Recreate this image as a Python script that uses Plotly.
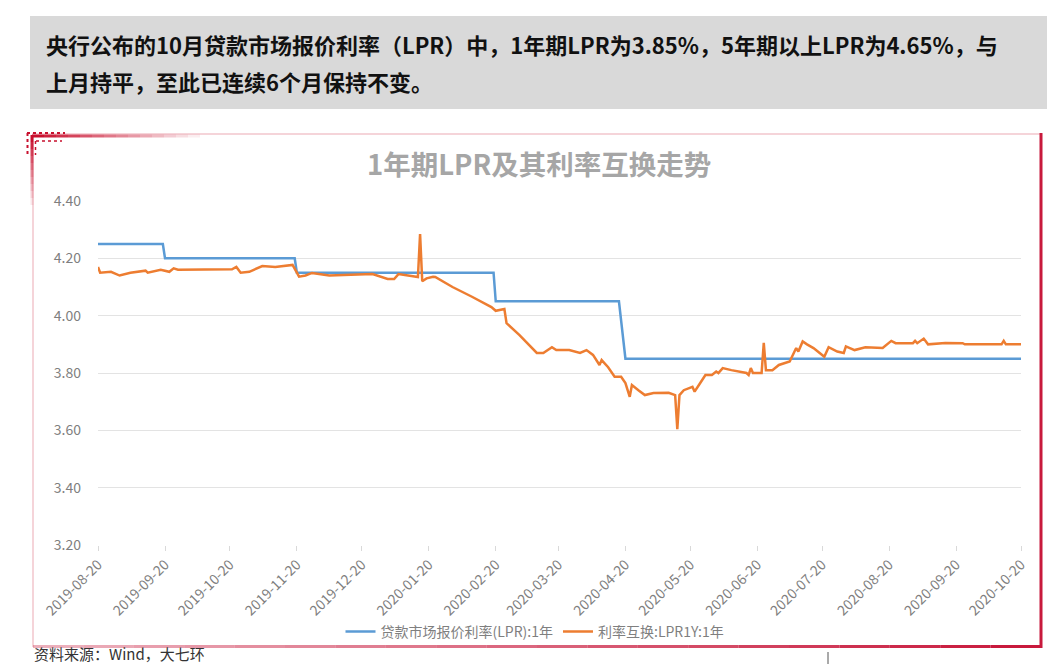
import plotly.graph_objects as go

W, H = 1062, 664

# ---------------- data ----------------
lpr_dates = ["2019-08-20", "2019-09-19", "2019-09-20", "2019-11-19", "2019-11-20",
             "2020-02-19", "2020-02-20", "2020-04-17", "2020-04-20", "2020-10-20"]
lpr_values = [4.25, 4.25, 4.20, 4.20, 4.15, 4.15, 4.05, 4.05, 3.85, 3.85]

swap_dates = [
    "2019-08-20", "2019-08-21", "2019-08-26", "2019-08-30", "2019-09-04", "2019-09-11",
    "2019-09-12", "2019-09-18", "2019-09-22", "2019-09-24", "2019-09-26", "2019-10-08",
    "2019-10-21", "2019-10-23", "2019-10-25", "2019-10-29", "2019-11-04", "2019-11-10",
    "2019-11-18", "2019-11-20", "2019-11-21", "2019-11-24", "2019-11-27", "2019-12-05",
    "2019-12-15", "2019-12-25", "2020-01-01", "2020-01-04", "2020-01-06", "2020-01-14",
    "2020-01-15", "2020-01-16", "2020-01-17", "2020-01-19", "2020-01-22", "2020-01-23",
    "2020-01-31", "2020-02-09", "2020-02-17", "2020-02-18", "2020-02-20", "2020-02-24",
    "2020-02-25", "2020-03-02", "2020-03-10", "2020-03-13", "2020-03-17", "2020-03-19",
    "2020-03-25", "2020-03-30", "2020-04-02", "2020-04-05", "2020-04-08", "2020-04-09",
    "2020-04-12", "2020-04-15", "2020-04-18", "2020-04-20", "2020-04-22", "2020-04-23",
    "2020-04-26", "2020-04-29", "2020-05-03", "2020-05-10", "2020-05-13", "2020-05-14",
    "2020-05-15", "2020-05-17", "2020-05-21", "2020-05-22", "2020-05-24", "2020-05-27",
    "2020-05-30", "2020-06-01", "2020-06-02", "2020-06-04", "2020-06-08", "2020-06-15",
    "2020-06-16", "2020-06-17", "2020-06-18", "2020-06-22", "2020-06-23", "2020-06-24",
    "2020-06-27", "2020-06-30", "2020-07-05", "2020-07-06", "2020-07-08", "2020-07-09",
    "2020-07-11", "2020-07-13", "2020-07-16", "2020-07-18", "2020-07-21", "2020-07-23",
    "2020-07-27", "2020-07-30", "2020-07-31", "2020-08-04", "2020-08-09", "2020-08-17",
    "2020-08-21", "2020-08-23", "2020-08-31", "2020-09-01", "2020-09-02", "2020-09-05",
    "2020-09-07", "2020-09-15", "2020-09-23", "2020-09-24", "2020-10-11", "2020-10-12",
    "2020-10-13", "2020-10-20"]
swap_values = [
    4.17, 4.15, 4.153, 4.14, 4.15, 4.157,
    4.15, 4.16, 4.153, 4.165, 4.16, 4.162,
    4.162, 4.17, 4.15, 4.153, 4.173, 4.17,
    4.177, 4.15, 4.136, 4.14, 4.149, 4.14,
    4.143, 4.145, 4.128, 4.128, 4.145, 4.135,
    4.135, 4.285, 4.12, 4.13, 4.136, 4.135,
    4.10, 4.066, 4.033, 4.03, 4.017, 4.023,
    3.974, 3.932, 3.87, 3.87, 3.89, 3.88,
    3.88, 3.87, 3.88, 3.863, 3.828, 3.845,
    3.82, 3.787, 3.787, 3.765, 3.717, 3.758,
    3.74, 3.723, 3.73, 3.731, 3.723, 3.604,
    3.723, 3.74, 3.752, 3.735, 3.758, 3.793,
    3.793, 3.805, 3.80, 3.817, 3.81, 3.80,
    3.793, 3.817, 3.80, 3.80, 3.905, 3.81,
    3.81, 3.828, 3.84, 3.857, 3.887, 3.875,
    3.91, 3.90, 3.887, 3.875, 3.857, 3.89,
    3.875, 3.87, 3.893, 3.88, 3.89, 3.887,
    3.912, 3.904, 3.904, 3.912, 3.904, 3.92,
    3.90, 3.905, 3.904, 3.90, 3.90, 3.912,
    3.90, 3.90]

tick_dates = ["2019-08-20", "2019-09-20", "2019-10-20", "2019-11-20", "2019-12-20",
              "2020-01-20", "2020-02-20", "2020-03-20", "2020-04-20", "2020-05-20",
              "2020-06-20", "2020-07-20", "2020-08-20", "2020-09-20", "2020-10-20"]
y_ticks = [3.20, 3.40, 3.60, 3.80, 4.00, 4.20, 4.40]
y_tick_text = ["3.20", "3.40", "3.60", "3.80", "4.00", "4.20", "4.40"]

header_line1 = "央行公布的10月贷款市场报价利率（LPR）中，1年期LPR为3.85%，5年期以上LPR为4.65%，与"
header_line2 = "上月持平，至此已连续6个月保持不变。"
chart_title = "1年期LPR及其利率互换走势"
source_text = "资料来源：Wind，大七环"
name_lpr = "贷款市场报价利率(LPR):1年"
name_swap = "利率互换:LPR1Y:1年"

# ---------------- helpers (pixel -> paper) ----------------
def px(x):
    return x / W

def py(y):
    return 1 - y / H

CJK = "Noto Sans CJK SC, Noto Sans, sans-serif"

fig = go.Figure()
fig.add_trace(go.Scatter(x=lpr_dates, y=lpr_values, mode="lines", name=name_lpr,
                         line=dict(color="#5b9bd5", width=2.5)))
fig.add_trace(go.Scatter(x=swap_dates, y=swap_values, mode="lines", name=name_swap,
                         line=dict(color="#ed7d31", width=2.5)))

shapes = []
# header grey box
shapes.append(dict(type="rect", xref="paper", yref="paper", x0=px(30), x1=px(1047),
                   y0=py(109), y1=py(16), fillcolor="#d9d9d9", line=dict(width=0), layer="below"))

def seg(x0, y0, x1, y1, rgba, w):
    return dict(type="line", xref="paper", yref="paper", x0=px(x0), y0=py(y0),
                x1=px(x1), y1=py(y1), line=dict(color=rgba, width=w))

# faint top and left edges
shapes.append(seg(32, 134, 1041, 134, "rgba(200,16,46,0.18)", 2))
shapes.append(seg(33, 135, 33, 647, "rgba(200,16,46,0.18)", 2))
# right edge solid
shapes.append(seg(1041, 133, 1041, 648, "rgb(200,25,60)", 3))
# bottom edge gradient (left pale -> right strong)
n = 20
for i in range(n):
    xa = 33 + (1041 - 33) * i / n
    xb = 33 + (1041 - 33) * (i + 1) / n
    a = 0.35 + 0.65 * (i / (n - 1))
    shapes.append(seg(xa, 646.5, xb, 646.5, f"rgba(200,25,60,{a:.2f})", 3))
# top-left corner thick gradient
n = 14
for i in range(n):
    xa = 32 + (200 - 32) * i / n
    xb = 32 + (200 - 32) * (i + 1) / n
    a = 1 - i / n
    shapes.append(seg(xa, 136, xb, 136, f"rgba(200,16,46,{a:.2f})", 3))
n = 10
for i in range(n):
    ya = 135 + (205 - 135) * i / n
    yb = 135 + (205 - 135) * (i + 1) / n
    a = 1 - i / n
    shapes.append(seg(32, ya, 32, yb, f"rgba(200,16,46,{a:.2f})", 3))
# dotted ornaments
shapes.append(dict(type="line", xref="paper", yref="paper", x0=px(27), y0=py(133), x1=px(65), y1=py(133),
                   line=dict(color="rgb(200,16,46)", width=2, dash="dot")))
shapes.append(dict(type="line", xref="paper", yref="paper", x0=px(27.5), y0=py(133), x1=px(27.5), y1=py(157),
                   line=dict(color="rgb(200,16,46)", width=2, dash="dot")))
shapes.append(dict(type="line", xref="paper", yref="paper", x0=px(36), y0=py(141), x1=px(62), y1=py(141),
                   line=dict(color="rgb(200,16,46)", width=1.5, dash="dot")))
shapes.append(dict(type="line", xref="paper", yref="paper", x0=px(35.5), y0=py(141), x1=px(35.5), y1=py(155),
                   line=dict(color="rgb(200,16,46)", width=1.5, dash="dot")))
# small stray mark at bottom
shapes.append(seg(828, 652, 828, 664, "#555555", 1))

annotations = [
    dict(text=f"<b>{header_line1}</b>", x=px(44), y=py(44), xref="paper", yref="paper",
         xanchor="left", yanchor="middle", showarrow=False,
         font=dict(family=CJK, size=22, color="#111111")),
    dict(text=f"<b>{header_line2}</b>", x=px(44), y=py(81), xref="paper", yref="paper",
         xanchor="left", yanchor="middle", showarrow=False,
         font=dict(family=CJK, size=22, color="#111111")),
    dict(text=f"<b>{chart_title}</b>", x=px(539), y=py(163), xref="paper", yref="paper",
         xanchor="center", yanchor="middle", showarrow=False,
         font=dict(family=CJK, size=27.5, color="#a6a6a6")),
    dict(text=source_text, x=px(32), y=py(653), xref="paper", yref="paper",
         xanchor="left", yanchor="middle", showarrow=False,
         font=dict(family=CJK, size=15, color="#333333")),
]

fig.update_layout(
    width=W, height=H,
    margin=dict(l=0, r=0, t=0, b=0),
    paper_bgcolor="white", plot_bgcolor="white",
    font=dict(family=CJK, color="#7f7f7f"),
    shapes=shapes,
    annotations=annotations,
    showlegend=True,
    legend=dict(orientation="h", x=px(535), xanchor="center", y=py(632), yanchor="middle",
                font=dict(family=CJK, size=14, color="#7f7f7f"), itemwidth=30,
                bgcolor="rgba(0,0,0,0)", tracegroupgap=0),
    xaxis=dict(domain=[px(98), px(1021)], type="date",
               range=["2019-08-20", "2020-10-20"],
               tickvals=tick_dates, ticktext=tick_dates, tickangle=-45,
               tickfont=dict(family=CJK, size=14, color="#7f7f7f"),
               showgrid=False, zeroline=False, showline=False,
               ticks="outside", ticklen=5, tickcolor="#d9d9d9",
               automargin=False),
    yaxis=dict(domain=[py(545), py(201)], range=[3.2, 4.4],
               tickvals=y_ticks, ticktext=y_tick_text,
               tickfont=dict(family=CJK, size=14, color="#7f7f7f"),
               showgrid=True, gridcolor="#e3e3e3", gridwidth=1,
               zeroline=False, showline=False, ticks="", ticklabelstandoff=16,
               automargin=False),
)

fig.write_html("out.html")
